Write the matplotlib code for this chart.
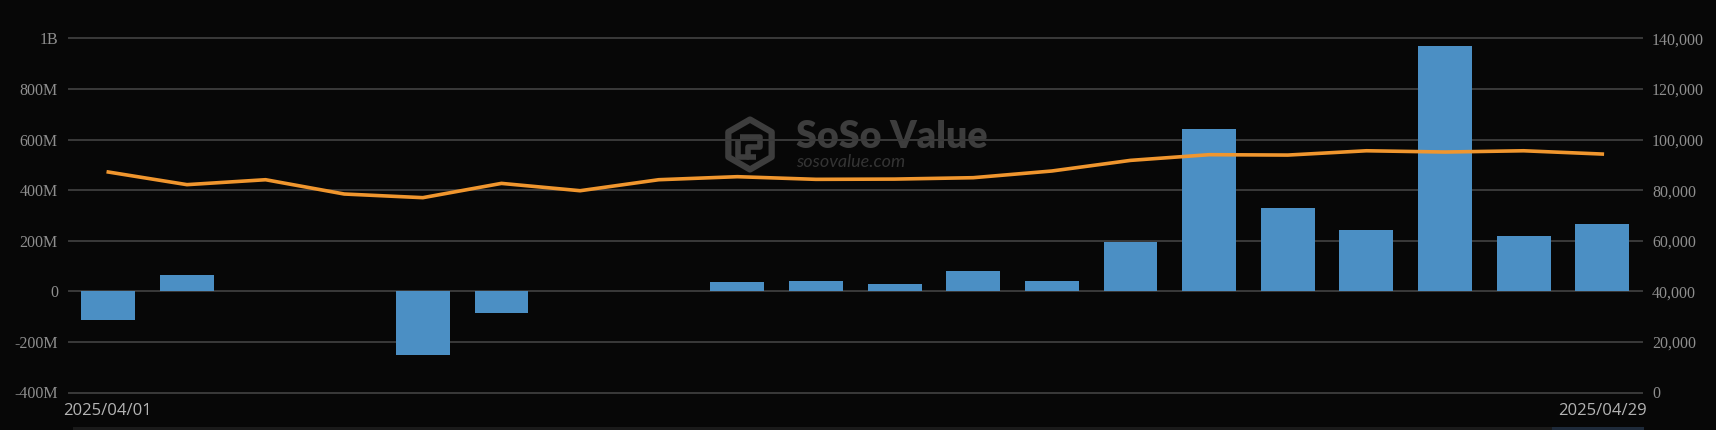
import matplotlib
matplotlib.use("Agg")
import matplotlib.pyplot as plt
from matplotlib.patches import Polygon, Rectangle
from matplotlib.ticker import FixedLocator, FixedFormatter
import numpy as np

# ---- data ----
dates = ["2025/04/01", "2025/04/02", "2025/04/03", "2025/04/04", "2025/04/07",
         "2025/04/08", "2025/04/09", "2025/04/10", "2025/04/11", "2025/04/14",
         "2025/04/15", "2025/04/16", "2025/04/17", "2025/04/21", "2025/04/22",
         "2025/04/23", "2025/04/24", "2025/04/25", "2025/04/28", "2025/04/29"]
net_inflow_musd = [-114, 66, 0, 0, -250, -87, 0, 0, 38, 39,
                   31, 81, 42, 194, 643, 328, 242, 970, 218, 268]
btc_price = [87200, 82200, 84150, 78500, 77050, 82700, 79800, 84150, 85350, 84300,
             84400, 84950, 87600, 91800, 94050, 93900, 95600, 95100, 95600, 94300]
left_ticks = [-400e6, -200e6, 0, 200e6, 400e6, 600e6, 800e6, 1e9]
left_labels = ["-400M", "-200M", "0", "200M", "400M", "600M", "800M", "1B"]
right_ticks = [0, 20000, 40000, 60000, 80000, 100000, 120000, 140000]
right_labels = ["0", "20,000", "40,000", "60,000", "80,000", "100,000", "120,000", "140,000"]

# ---- style ----
BG = "#070707"
GRID = "#3a3a3a"
BAR = "#4b8fc4"
LINE = "#f0962e"
TICK = "#8e8e8e"
WM = "#3d3d3d"

W, H = 1716, 430
fig = plt.figure(figsize=(W / 100, H / 100), dpi=100)
fig.patch.set_facecolor(BG)

# overlay (pixel coordinates) for watermark and scroll strip
wax = fig.add_axes([0, 0, 1, 1])
wax.set_xlim(0, W)
wax.set_ylim(H, 0)
wax.axis("off")
wax.set_zorder(0)

# watermark hexagon icon
cx, cy, r = 750, 144.5, 25
ang = np.deg2rad(np.arange(90, 450, 60))
hexpts = np.column_stack([cx + r * np.cos(ang), cy - r * np.sin(ang)])
wax.add_patch(Polygon(hexpts, closed=True, fill=False, edgecolor=WM, lw=4.5, joinstyle="round"))
wax.plot([cx - 10, cx + 10, cx + 10, cx - 2, cx - 2, cx + 6],
         [cy - 8, cy - 8, cy + 2, cy + 2, cy + 12, cy + 12], color=WM, lw=4, solid_capstyle="butt")
wax.plot([cx - 12, cx - 12, cx - 4], [cy - 2, cy + 12, cy + 12], color=WM, lw=4)
wax.text(796, 137, "SoSo Value", ha="left", va="center", fontsize=27, family="Lato",
         weight="heavy", color=WM)
wax.text(796, 162, "sosovalue.com", ha="left", va="center", fontsize=13, family="Lato",
         style="italic", color="#343434")

# bottom scroll strip
wax.add_patch(Rectangle((73, 426.5), 1644 - 73, 3.5, color="#1a1a1a", lw=0))
wax.add_patch(Rectangle((1551.5, 426.5), 1644 - 1551.5, 3.5, color="#1e2a3a", lw=0))

# main axes
left, right, top, bottom = 69, 1641.6, 38.5, 392.5
ax = fig.add_axes([left / W, 1 - bottom / H, (right - left) / W, (bottom - top) / H])
ax.set_zorder(1)
ax.patch.set_visible(False)

x = np.arange(len(dates))
vals = np.array(net_inflow_musd) * 1e6
ax.bar(x, vals, width=0.685, color=BAR, zorder=3)
ax.set_xlim(-0.5, len(dates) - 0.5)
ax.set_ylim(-400e6, 1e9)
ax.yaxis.set_major_locator(FixedLocator(left_ticks))
ax.yaxis.set_major_formatter(FixedFormatter(left_labels))
ax.yaxis.grid(True, color=GRID, lw=1.4)
ax.set_axisbelow(True)
ax.set_xticks([])
for s in ax.spines.values():
    s.set_visible(False)
ax.tick_params(axis="y", length=0, pad=8, labelcolor=TICK, labelsize=11.5)
for lab in ax.get_yticklabels():
    lab.set_family("Liberation Serif")
for gl in ax.get_ygridlines():
    gl.set_clip_on(False)

ax2 = ax.twinx()
ax2.set_zorder(2)
ax2.patch.set_visible(False)
ax2.plot(x, btc_price, color=LINE, lw=2.6, solid_joinstyle="round")
ax2.set_ylim(0, 140000)
ax2.yaxis.set_major_locator(FixedLocator(right_ticks))
ax2.yaxis.set_major_formatter(FixedFormatter(right_labels))
for s in ax2.spines.values():
    s.set_visible(False)
ax2.tick_params(axis="y", length=0, pad=7.5, labelcolor=TICK, labelsize=11.5)
for lab in ax2.get_yticklabels():
    lab.set_family("Liberation Serif")

# x labels (first and last date)
fig.text(63 / W, 1 - 411 / H, dates[0], ha="left", va="center", fontsize=12,
         family="Open Sans", color="#b4b4b4")
fig.text(1647 / W, 1 - 411 / H, dates[-1], ha="right", va="center", fontsize=12,
         family="Open Sans", color="#b4b4b4")

fig.savefig("out.png", dpi=100, facecolor=BG)
